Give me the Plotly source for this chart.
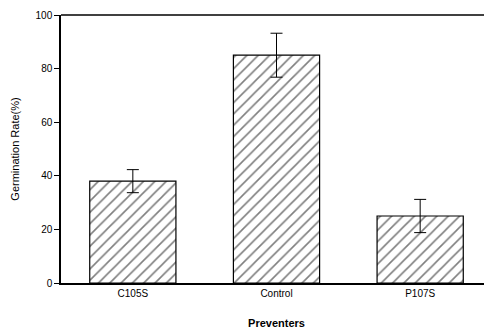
import plotly.graph_objects as go

categories = ["C105S", "Control", "P107S"]
values = [38, 85, 25]
errors = [4.3, 8.2, 6.2]
y_ticks = [0, 20, 40, 60, 80, 100]

fig = go.Figure()
fig.add_trace(go.Bar(
    x=categories, y=values,
    width=0.6,
    marker=dict(color="white", line=dict(color="black", width=1.2),
                pattern=dict(shape="/", size=8, solidity=0.2, fgcolor="black", bgcolor="white")),
    error_y=dict(type="data", array=errors, visible=True, color="black", thickness=1, width=6),
))

fig.update_layout(
    width=484, height=328,
    margin=dict(l=53, r=0, t=7, b=53),
    paper_bgcolor="white", plot_bgcolor="white",
    font=dict(family="Liberation Sans, Arial, sans-serif", size=10, color="black"),
    showlegend=False,
)
fig.update_xaxes(
    range=[-0.5, 2.5], showline=True, linecolor="black", linewidth=1.5,
    ticks="", showgrid=False, mirror=False,
    title=dict(text="<b>Preventers</b>", font=dict(size=11), standoff=22),
)
fig.update_yaxes(
    range=[0, 100], tickvals=y_ticks, showline=True, linecolor="black", linewidth=1.5,
    ticks="outside", ticklen=5, tickcolor="black", showgrid=False, zeroline=False,
    title=dict(text="Germination Rate(%)", font=dict(size=11), standoff=14),
)
fig.add_shape(type="line", xref="paper", yref="paper", x0=0, x1=1, y0=1, y1=1,
              line=dict(color="black", width=1.5))
fig.write_html("out.html")
